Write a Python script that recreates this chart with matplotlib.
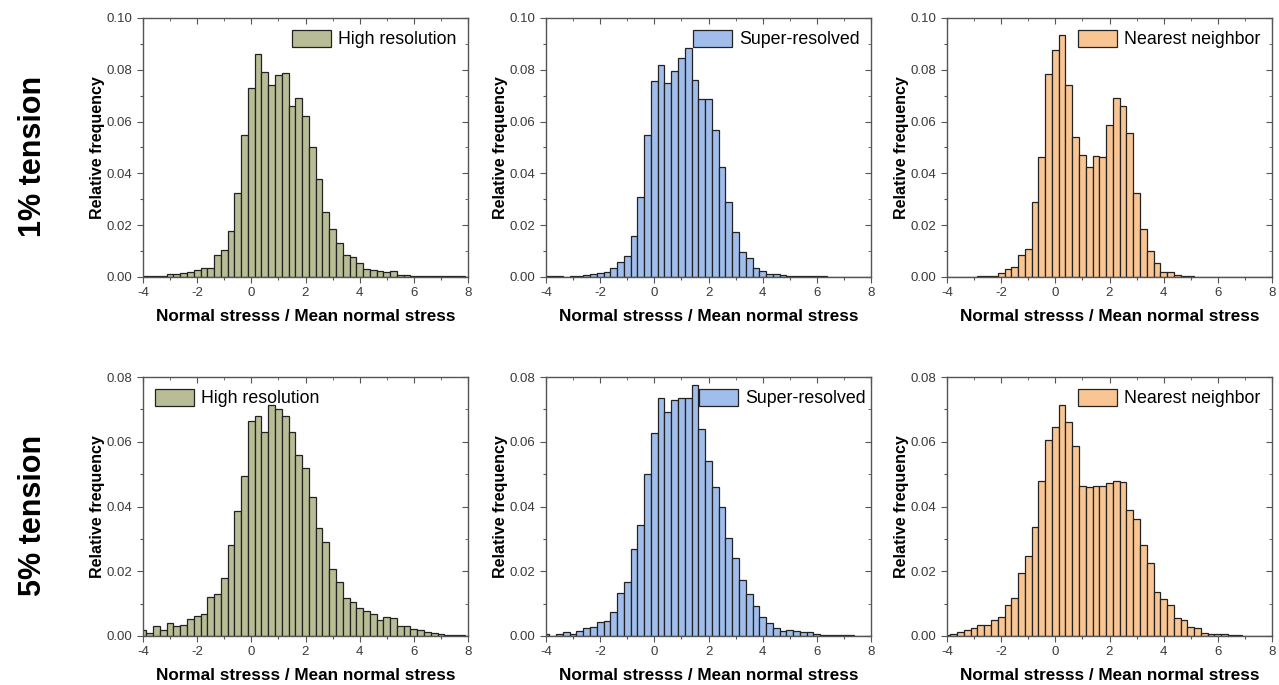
import numpy as np
import matplotlib.pyplot as plt
from matplotlib.ticker import MultipleLocator, FormatStrFormatter

plt.rcParams['font.family'] = ['Liberation Sans', 'DejaVu Sans']
plt.rcParams['axes.unicode_minus'] = False

# bin centres (bin width 0.25)
centers = np.arange(-4, 8.001, 0.25)

hr_1 = [0.0003, 0.0003, 0.0004, 0.0005, 0.0010, 0.0013, 0.0017, 0.0020, 0.0027, 0.0036,
        0.0036, 0.0085, 0.0104, 0.0178, 0.0324, 0.0550,
        0.0730, 0.0860, 0.0790, 0.0740, 0.0780, 0.0786, 0.0660, 0.0690, 0.0620, 0.0500,
        0.0380, 0.0250, 0.0186, 0.0130, 0.0085, 0.0076, 0.0053, 0.0030, 0.0027, 0.0025,
        0.0018, 0.0023, 0.0007, 0.0007, 0.0005, 0.0005, 0.0004, 0.0002, 0.0003, 0.0003,
        0.0003, 0.0002, 0.0]
sr_1 = [0.0002, 0.0003, 0.0003, 0.0001, 0.0003, 0.0004, 0.0006, 0.0013, 0.0014, 0.0019,
        0.0036, 0.0058, 0.0083, 0.0157, 0.0308, 0.0547,
        0.0758, 0.0820, 0.0750, 0.0794, 0.0845, 0.0886, 0.0760, 0.0688, 0.0688, 0.0566,
        0.0426, 0.0290, 0.0174, 0.0097, 0.0074, 0.0033, 0.0023, 0.0010, 0.0013, 0.0006,
        0.0005, 0.0004, 0.0004, 0.0004, 0.0002, 0.0004, 0.0, 0.0, 0.0, 0.0,
        0.0, 0.0, 0.0]
nn_1 = [0.0, 0.0, 0.0, 0.0, 0.0001, 0.0002, 0.0003, 0.0004, 0.0014, 0.0032,
        0.0038, 0.0085, 0.0109, 0.0289, 0.0463, 0.0785,
        0.0878, 0.0935, 0.0741, 0.0540, 0.0472, 0.0424, 0.0468, 0.0463, 0.0588, 0.0690,
        0.0660, 0.0555, 0.0326, 0.0185, 0.0101, 0.0055, 0.0020, 0.0018, 0.0006, 0.0004,
        0.0002, 0.0, 0.0, 0.0, 0.0, 0.0, 0.0, 0.0, 0.0, 0.0,
        0.0, 0.0, 0.0]
hr_5 = [0.0017, 0.0010, 0.0030, 0.0017, 0.0040, 0.0030, 0.0035, 0.0053, 0.0063, 0.0068,
        0.0120, 0.0130, 0.0180, 0.0280, 0.0386, 0.0495,
        0.0664, 0.0678, 0.0631, 0.0712, 0.0700, 0.0678, 0.0631, 0.0560, 0.0520, 0.0430,
        0.0333, 0.0290, 0.0207, 0.0168, 0.0118, 0.0106, 0.0085, 0.0078, 0.0067, 0.0050,
        0.0058, 0.0055, 0.0030, 0.0032, 0.0022, 0.0017, 0.0012, 0.0008, 0.0005, 0.0004,
        0.0003, 0.0002, 0.0]
sr_5 = [0.0005, 0.0001, 0.0007, 0.0011, 0.0007, 0.0016, 0.0024, 0.0028, 0.0044, 0.0047,
        0.0073, 0.0134, 0.0166, 0.0269, 0.0343, 0.0500,
        0.0626, 0.0734, 0.0693, 0.0729, 0.0734, 0.0736, 0.0775, 0.0640, 0.0539, 0.0461,
        0.0400, 0.0304, 0.0242, 0.0173, 0.0130, 0.0094, 0.0060, 0.0039, 0.0026, 0.0015,
        0.0019, 0.0016, 0.0013, 0.0011, 0.0005, 0.0003, 0.0002, 0.0002, 0.0004, 0.0002,
        0.0, 0.0, 0.0]
nn_5 = [0.0003, 0.0007, 0.0012, 0.0017, 0.0026, 0.0033, 0.0034, 0.0048, 0.0060, 0.0095,
        0.0118, 0.0195, 0.0246, 0.0336, 0.0480, 0.0606,
        0.0647, 0.0714, 0.0662, 0.0588, 0.0462, 0.0460, 0.0462, 0.0462, 0.0472, 0.0480,
        0.0475, 0.0390, 0.0360, 0.0282, 0.0224, 0.0137, 0.0115, 0.0095, 0.0056, 0.0049,
        0.0029, 0.0026, 0.0010, 0.0007, 0.0007, 0.0005, 0.0003, 0.0002, 0.0001, 0.0001,
        0.0, 0.0, 0.0]

names = ['High resolution', 'Super-resolved', 'Nearest neighbor']
colors = ['#B8BD95', '#A0BDEB', '#F9C693']
row_labels = ['1% tension', '5% tension']
rows = [[hr_1, sr_1, nn_1], [hr_5, sr_5, nn_5]]
ymax = [0.10, 0.08]
leg_loc = [['upper right', 'upper right', 'upper right'],
           ['upper left', 'upper right', 'upper right']]
leg_anchor = [[(1, 1), (1, 1), (1, 1)],
              [(0, 1), (1.02, 1), (1, 1)]]

fig = plt.figure(figsize=(12.79, 6.85), dpi=100)
lefts = [143 / 1279, 546 / 1279, 947 / 1279]
bottoms = [1 - 277 / 685, 1 - 636 / 685]
w = 325 / 1279
h = 259 / 685
grey = '#555555'

for r in range(2):
    for c in range(3):
        ax = fig.add_axes([lefts[c], bottoms[r], w, h])
        ax.bar(centers, rows[r][c], width=0.25, color=colors[c], edgecolor='#222222',
               linewidth=0.9, label=names[c])
        ax.set_xlim(-4, 8)
        ax.set_ylim(0, ymax[r])
        ax.xaxis.set_major_locator(MultipleLocator(2))
        ax.xaxis.set_minor_locator(MultipleLocator(1))
        ax.yaxis.set_major_locator(MultipleLocator(0.02))
        ax.yaxis.set_minor_locator(MultipleLocator(0.01))
        ax.yaxis.set_major_formatter(FormatStrFormatter('%.2f'))
        ax.tick_params(which='both', direction='out', colors=grey, labelsize=9.5,
                       labelcolor='#3a3a3a')
        ax.tick_params(which='major', length=4, width=0.8)
        ax.tick_params(which='minor', length=2.5, width=0.8)
        for s in ax.spines.values():
            s.set_color(grey)
            s.set_linewidth(1.0)
        # inward ticks mirrored on top and right
        top = ax.secondary_xaxis('top')
        top.xaxis.set_major_locator(MultipleLocator(2))
        top.xaxis.set_minor_locator(MultipleLocator(1))
        top.tick_params(which='both', direction='in', colors=grey, labeltop=False)
        top.tick_params(which='major', length=4)
        top.tick_params(which='minor', length=2.5)
        rt = ax.secondary_yaxis('right')
        rt.yaxis.set_major_locator(MultipleLocator(0.02))
        rt.yaxis.set_minor_locator(MultipleLocator(0.01))
        rt.tick_params(which='both', direction='in', colors=grey, labelright=False)
        rt.tick_params(which='major', length=4)
        rt.tick_params(which='minor', length=2.5)
        for sec in (top, rt):
            for s in sec.spines.values():
                s.set_visible(False)
        ax.set_xlabel('Normal stresss / Mean normal stress', fontsize=12.3,
                      fontweight='bold', labelpad=7)
        ax.set_ylabel('Relative frequency', fontsize=11.5, fontweight='bold', labelpad=1)
        ax.legend(loc=leg_loc[r][c], bbox_to_anchor=leg_anchor[r][c], frameon=False,
                  fontsize=12.8, handlelength=2.2, handleheight=1.1, handletextpad=0.4,
                  borderaxespad=0.25)

for r in range(2):
    fig.text(33 / 1279, bottoms[r] + h / 2 - 8.5 / 685, row_labels[r], rotation=90,
             fontsize=22, fontweight='bold', ha='center', va='center')

fig.savefig('out.png', dpi=100)
